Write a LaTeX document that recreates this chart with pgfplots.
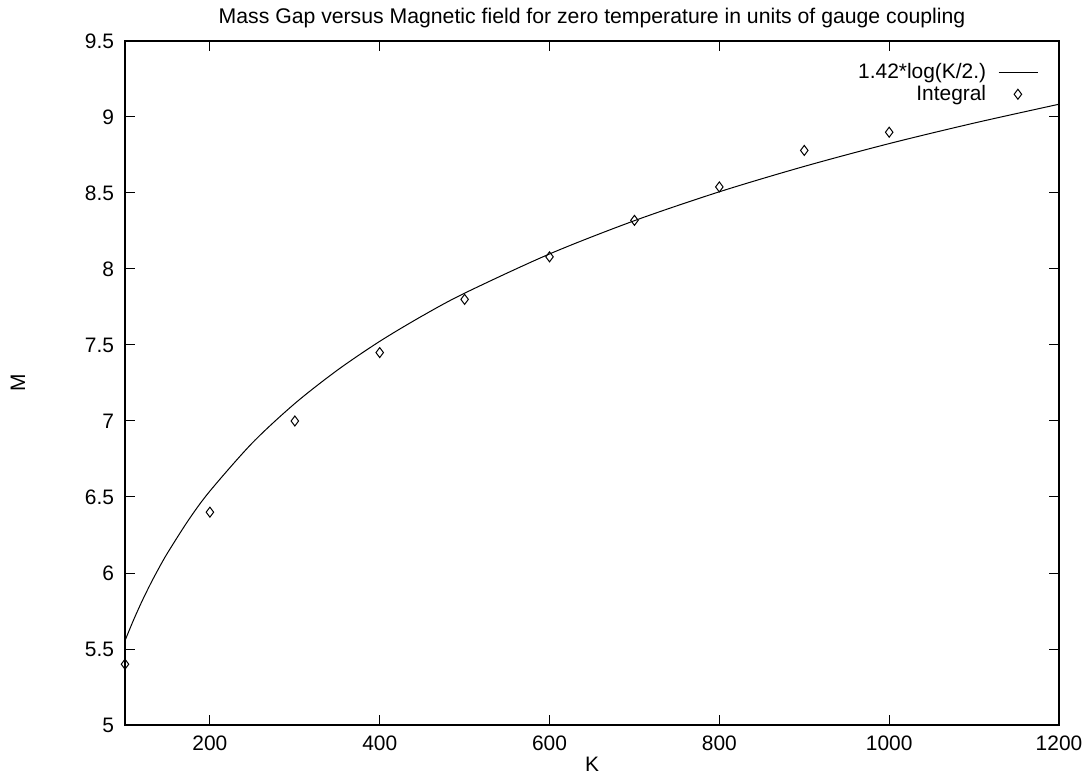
\documentclass[border=0pt]{standalone}
\usepackage{pgfplots}
\pgfplotsset{compat=1.18}
\usepackage{fontspec}
\setmainfont{Liberation Sans}

\begin{document}
\begin{tikzpicture}
\begin{axis}[
  scale only axis,
  width=467bp, height=342bp,
  xmin=100, xmax=1200,
  ymin=5, ymax=9.5,
  xtick={200,400,...,1200},
  ytick={5,5.5,...,9.5},
  xticklabel style={/pgf/number format/1000 sep={}, yshift=-2bp},
  yticklabel style={/pgf/number format/fixed, xshift=-2bp},
  /pgf/number format/assume math mode=true,
  tick align=inside,
  major tick length=5bp,
  minor tick num=0,
  axis line style={line width=0.6pt},
  every tick/.style={black, line width=0.5pt},
  font=\fontsize{10.5}{12}\selectfont,
  title={Mass Gap versus Magnetic field for zero temperature in units of gauge coupling},
  every axis title/.style={at={(axis description cs:0.5,1)}, anchor=base, yshift=8.5bp,
    font=\fontsize{10.65}{12}\selectfont},
  xlabel={K},
  xlabel style={at={(axis description cs:0.5,0)}, anchor=base, yshift=-23bp},
  ylabel={M},
  ylabel style={at={(axis description cs:-0.1146,0.5)}, anchor=center},
  legend style={draw=none, fill=none, at={(axis description cs:0.984,0.98)}, anchor=north east,
    row sep=-2bp, column sep=4bp, font=\fontsize{10.5}{12}\selectfont},
  legend cell align=right,
  legend plot pos=right,
  legend image code/.code={\draw[mark repeat=2,mark phase=2,#1] plot coordinates {(0cm,0cm)(0.34cm,0cm)(0.68cm,0cm)};},
]
\addplot[black, line width=0.5pt, smooth, mark=none] coordinates {
  (100,5.555) (110,5.690) (120,5.814) (130,5.928) (140,6.033) (150,6.131)
  (175,6.350) (200,6.539) (250,6.856) (300,7.115) (350,7.334) (400,7.524)
  (450,7.691) (500,7.841) (600,8.099) (700,8.318) (800,8.508) (900,8.675)
  (1000,8.825) (1100,8.960) (1200,9.084)
};
\addlegendentry{1.42*log(K/2.)}
\addplot[only marks, mark=diamond, mark size=2.5bp, black, line width=0.5pt] coordinates {
  (100,5.4) (200,6.4) (300,7.0) (400,7.45) (500,7.8)
  (600,8.08) (700,8.32) (800,8.54) (900,8.78) (1000,8.9)
};
\addlegendentry{Integral}
\end{axis}
\pgfresetboundingbox
\path (-62.5bp,-24bp) rectangle (480.5bp,362.5bp);
\end{tikzpicture}
\end{document}
